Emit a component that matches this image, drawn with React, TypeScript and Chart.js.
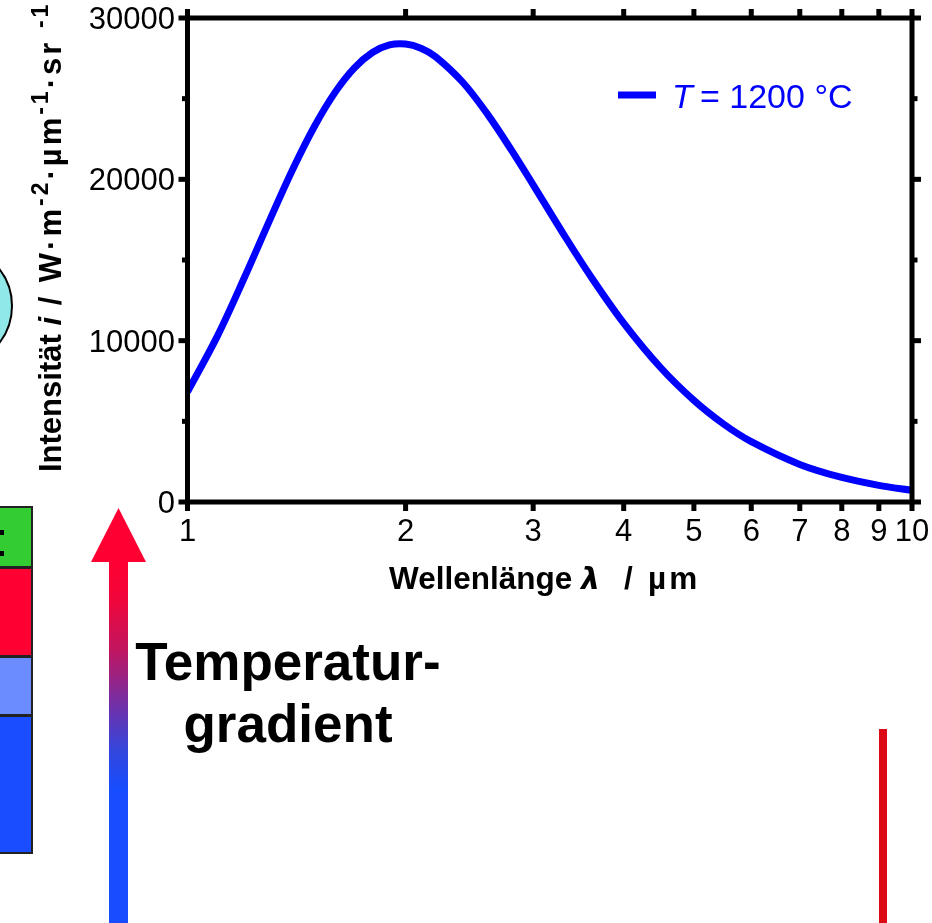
import React, { useEffect, useRef } from "react";
import { Chart, registerables } from "chart.js";

Chart.register(...registerables);

// ---- data ----
const wavelengths = [1.0, 1.1, 1.2, 1.3, 1.4, 1.5, 1.6, 1.7, 1.8, 1.9, 2.0, 2.1, 2.2, 2.4, 2.6, 2.8, 3.0, 3.3, 3.6, 4.0, 4.5, 5.0, 5.5, 6.0, 7.0, 8.0, 9.0, 10.0];
const intensity = [6830, 10300, 13980, 17520, 20700, 23350, 25420, 26910, 27860, 28330, 28390, 28130, 27600, 26000, 23980, 21810, 19660, 16640, 14000, 11090, 8320, 6300, 4820, 3740, 2330, 1520, 1030, 720];
const xTickValues = [1, 2, 3, 4, 5, 6, 7, 8, 9, 10];
const yMajorTicks = [0, 10000, 20000, 30000];
const yMinorTicks = [5000, 15000, 25000];
const legendSymbol = "T";
const legendText = "= 1200 °C";
const xTitleWord = "Wellenlänge";
const xTitleSymbol = "λ";
const xTitleUnit = ["/", "µm"];

const FONT = "'Liberation Sans', Arial, Helvetica, sans-serif";
const BLUE = "#0000ff";

const framePlugin = {
  id: "frameAndText",
  afterDraw(chart: any) {
    const { ctx, chartArea, scales } = chart;
    const { left, right, top, bottom } = chartArea;
    const xs = scales.x;
    const ys = scales.y;
    ctx.save();
    ctx.strokeStyle = "#000";
    ctx.lineCap = "butt";
    ctx.lineWidth = 5;
    ctx.lineJoin = "miter";
    ctx.strokeRect(left, top, right - left, bottom - top);
    const seg = (x1: number, y1: number, x2: number, y2: number) => {
      ctx.beginPath();
      ctx.moveTo(x1, y1);
      ctx.lineTo(x2, y2);
      ctx.stroke();
    };
    xTickValues.forEach((v) => {
      const px = xs.getPixelForValue(v);
      seg(px, bottom, px, bottom + 9);
      seg(px, top, px, top - 9);
    });
    yMajorTicks.forEach((v) => {
      const py = ys.getPixelForValue(v);
      seg(left, py, left - 9, py);
      seg(right, py, right + 9, py);
    });
    yMinorTicks.forEach((v) => {
      const py = ys.getPixelForValue(v);
      seg(left, py, left - 5.5, py);
      seg(right, py, right + 5.5, py);
    });

    // tick labels
    ctx.fillStyle = "#000";
    ctx.font = `31px ${FONT}`;
    ctx.textBaseline = "alphabetic";
    ctx.textAlign = "center";
    xTickValues.forEach((v) => ctx.fillText(String(v), xs.getPixelForValue(v), 541));
    ctx.textAlign = "right";
    yMajorTicks.forEach((v) => ctx.fillText(String(v), 175, ys.getPixelForValue(v) + 11));

    // x title
    ctx.textAlign = "left";
    const by = 589;
    ctx.font = `bold 31.5px ${FONT}`;
    ctx.fillText(xTitleWord, 389, by);
    ctx.font = `italic 600 30px 'DejaVu Sans', sans-serif`;
    ctx.fillText(xTitleSymbol, 581, by);
    ctx.font = `bold 31.5px ${FONT}`;
    ctx.fillText(xTitleUnit[0], 624, by);
    let ux = 648;
    for (const ch of Array.from(xTitleUnit[1])) {
      ctx.fillText(ch, ux, by);
      ux += ctx.measureText(ch).width + 3;
    }

    // y title (rotated)
    ctx.save();
    ctx.translate(61, 472);
    ctx.rotate(-Math.PI / 2);
    const big = `bold 31px ${FONT}`;
    const bigI = `bold italic 31px ${FONT}`;
    const sup = `bold 23px ${FONT}`;
    const pieces: [string, string, number, number][] = [
      ["Intensität ", big, 0, 0],
      ["i", bigI, 0, 0],
      [" / W·m", big, 0, 3],
      ["-2", sup, -13, 3],
      ["·µm", big, 0, 3],
      ["-1", sup, -13, 3],
      ["·sr ", big, 0, 3],
      ["-1", sup, -13, 3],
    ];
    let px = 0;
    pieces.forEach(([t, f, dy, sp]) => {
      ctx.font = f;
      for (const ch of Array.from(t)) {
        ctx.fillText(ch, px, dy);
        px += ctx.measureText(ch).width + sp;
      }
    });
    ctx.restore();

    // legend
    const ds = chart.data.datasets[0];
    ctx.strokeStyle = ds.borderColor;
    ctx.lineWidth = 7;
    seg(618, 95, 656, 95);
    ctx.fillStyle = ds.borderColor;
    ctx.font = `italic 34px ${FONT}`;
    ctx.fillText(legendSymbol, 672, 108);
    ctx.font = `34px ${FONT}`;
    ctx.fillText(legendText, 700, 108);
    ctx.restore();
  },
};

function PlanckChart() {
  const ref = useRef<HTMLCanvasElement | null>(null);
  useEffect(() => {
    if (!ref.current) return;
    const chart = new Chart(ref.current, {
      type: "line",
      data: {
        datasets: [
          {
            label: "T = 1200 °C",
            data: wavelengths.map((x, i) => ({ x, y: intensity[i] })),
            borderColor: BLUE,
            backgroundColor: BLUE,
            borderWidth: 7,
            pointRadius: 0,
            fill: false,
            tension: 0.35,
          },
        ],
      },
      options: {
        responsive: false,
        animation: false,
        events: [],
        layout: { padding: { left: 0, top: 18, right: 20, bottom: 0 } },
        plugins: { legend: { display: false }, tooltip: { enabled: false } },
        scales: {
          x: {
            type: "logarithmic",
            min: 1,
            max: 10,
            ticks: { display: false },
            grid: { display: false },
            border: { display: false },
            afterFit: (s: any) => {
              s.height = 923 - 502;
            },
          },
          y: {
            type: "linear",
            min: 0,
            max: 30000,
            ticks: { display: false },
            grid: { display: false },
            border: { display: false },
            afterFit: (s: any) => {
              s.width = 187.5;
            },
          },
        },
      },
      plugins: [framePlugin],
    } as any);
    return () => chart.destroy();
  }, []);
  return (
    <canvas
      ref={ref}
      width={932}
      height={923}
      style={{ position: "absolute", left: 0, top: 0, display: "block" }}
    />
  );
}

function Decorations() {
  return (
    <svg
      width={932}
      height={923}
      style={{ position: "absolute", left: 0, top: 0 }}
      xmlns="http://www.w3.org/2000/svg"
    >
      <defs>
        <linearGradient id="tg" x1="0" y1="562" x2="0" y2="923" gradientUnits="userSpaceOnUse">
          <stop offset="0" stopColor="#ff0033" />
          <stop offset="0.1" stopColor="#f2063a" />
          <stop offset="0.24" stopColor="#c2155e" />
          <stop offset="0.38" stopColor="#7a2da0" />
          <stop offset="0.52" stopColor="#3446dc" />
          <stop offset="0.63" stopColor="#174dff" />
          <stop offset="1" stopColor="#174dff" />
        </linearGradient>
      </defs>
      <circle cx={-48} cy={306} r={60} fill="#90e8e8" stroke="#000" strokeWidth={2} />
      <rect x={-3} y={507} width={35} height={60} fill="#33cc33" stroke="#222" strokeWidth={2} />
      <rect x={0} y={530} width={4} height={5} fill="#000" />
      <rect x={0} y={551} width={4} height={5} fill="#000" />
      <rect x={-3} y={568} width={35} height={88} fill="#ff0033" stroke="#222" strokeWidth={2} />
      <rect x={-3} y={657} width={35} height={58} fill="#6a8cff" stroke="#222" strokeWidth={2} />
      <rect x={-3} y={716} width={35} height={137} fill="#1a4dff" stroke="#222" strokeWidth={2} />
      <rect x={109} y={561} width={19} height={362} fill="url(#tg)" />
      <polygon points="91,562 146,562 118.5,508" fill="#ff0033" />
      <text
        x={288}
        y={680}
        textAnchor="middle"
        fontFamily={FONT}
        fontWeight="bold"
        fontSize={53}
        fill="#000"
      >
        Temperatur-
      </text>
      <text
        x={288}
        y={742}
        textAnchor="middle"
        fontFamily={FONT}
        fontWeight="bold"
        fontSize={53}
        fill="#000"
      >
        gradient
      </text>
      <rect x={879} y={729} width={8} height={194} fill="#dc0a14" />
    </svg>
  );
}

export default function App() {
  return (
    <div
      style={{
        position: "fixed",
        left: 0,
        top: 0,
        width: 932,
        height: 923,
        background: "#fff",
        overflow: "hidden",
      }}
    >
      <PlanckChart />
      <Decorations />
    </div>
  );
}
